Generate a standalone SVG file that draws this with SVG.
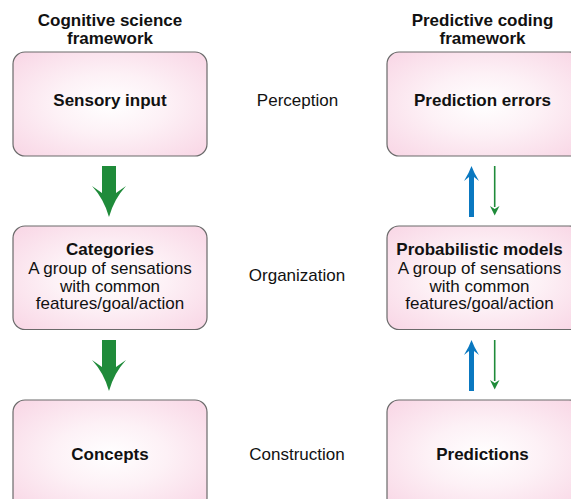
<svg xmlns="http://www.w3.org/2000/svg" width="571" height="499" viewBox="0 0 571 499">
<defs>
<radialGradient id="pink" cx="0.5" cy="0.5" r="0.65">
<stop offset="0" stop-color="#ffffff"/>
<stop offset="0.45" stop-color="#fdf1f6"/>
<stop offset="1" stop-color="#f9d9e7"/>
</radialGradient>
</defs>
<style>
.box{fill:url(#pink);stroke:#6a6a6a;stroke-width:1.2}
text{font-family:"Liberation Sans",Arial,Helvetica,sans-serif;font-size:17px;fill:#111;text-anchor:middle}
.b{font-weight:bold}
.big{fill:#1f8b3a}
.blue{fill:#0a78c0}
.thin{stroke:#1f8b3a;stroke-width:1.6;fill:none}
</style>
<rect width="571" height="499" fill="#ffffff"/>
<g id="title-left"><text class="b" x="110" y="25.5">Cognitive science</text><text class="b" x="110" y="43.5">framework</text></g>
<g id="title-right"><text class="b" x="482.5" y="25.5">Predictive coding</text><text class="b" x="482.5" y="43.5">framework</text></g>

<g id="sensory-input"><rect class="box" x="13" y="52" width="194" height="104" rx="12"/><text class="b" x="110" y="106">Sensory input</text></g>
<g id="categories"><rect class="box" x="13" y="226" width="194" height="103.5" rx="12"/>
<text class="b" x="110" y="255">Categories</text>
<text x="110" y="274">A group of sensations</text>
<text x="110" y="291.5">with common</text>
<text x="110" y="309">features/goal/action</text></g>
<g id="concepts"><rect class="box" x="13" y="400" width="194" height="110" rx="12"/><text class="b" x="110" y="460">Concepts</text></g>

<g id="prediction-errors"><rect class="box" x="387" y="52" width="194" height="104" rx="12"/><text class="b" x="482.5" y="106">Prediction errors</text></g>
<g id="probabilistic-models"><rect class="box" x="387" y="226" width="194" height="103.5" rx="12"/>
<text class="b" x="479.5" y="255">Probabilistic models</text>
<text x="479.5" y="274">A group of sensations</text>
<text x="479.5" y="291.5">with common</text>
<text x="479.5" y="309">features/goal/action</text></g>
<g id="predictions"><rect class="box" x="387" y="400" width="194" height="110" rx="12"/><text class="b" x="482.5" y="460">Predictions</text></g>

<g id="labels">
<text x="297.5" y="106">Perception</text>
<text x="297" y="280.5">Organization</text>
<text x="297" y="460">Construction</text>
</g>

<g id="connectors">
<path class="big" d="M102,166 H116 V193 L126,186 Q114,199 109,217 Q104,199 92,186 L102,193 Z"/>
<path class="big" d="M102,340 H116 V367 L126,360 Q114,373 109,391 Q104,373 92,360 L102,367 Z"/>
<path class="blue" d="M469,217 H474 V177 L479,181 Q474,173 471.5,166 Q469,173 464,181 L469,177 Z"/>
<path class="blue" d="M469,391 H474 V351 L479,355 Q474,347 471.5,340 Q469,347 464,355 L469,351 Z"/>
<line class="thin" x1="494.7" y1="166" x2="494.7" y2="207"/>
<path class="big" d="M490,206 L494.7,209 L499.5,206 L494.7,215.5 Z"/>
<line class="thin" x1="494.7" y1="340" x2="494.7" y2="381"/>
<path class="big" d="M490,380 L494.7,383 L499.5,380 L494.7,389.5 Z"/>
</g>
</svg>
